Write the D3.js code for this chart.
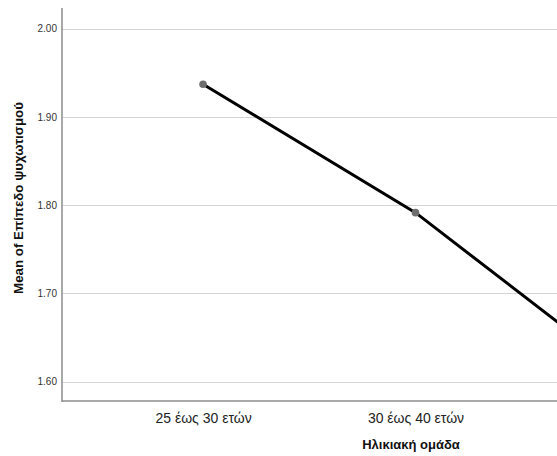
<!DOCTYPE html>
<html>
<head>
<meta charset="utf-8">
<script src="https://cdn.jsdelivr.net/npm/d3@7"></script>
<style>
html,body{margin:0;padding:0;background:#fff;overflow:hidden;}
svg{display:block;font-family:"Liberation Sans",Arial,sans-serif;}
</style>
</head>
<body>
<script>
const categories = ["25 έως 30 ετών", "30 έως 40 ετών", "40 έως 50 ετών"];
const visibleCategories = ["25 έως 30 ετών", "30 έως 40 ετών"];
const means = [1.937, 1.7915, 1.606];
const yTicks = [1.60, 1.70, 1.80, 1.90, 2.00];
const xTitle = "Ηλικιακή ομάδα";
const yTitle = "Mean of Επίπεδο ψυχωτισμού";

(function () {
const W = 557, H = 456;
const mLeft = 62, mTop = 8, mBottom = 401;

const svg = d3.select("body").append("svg").attr("width", W).attr("height", H);

const y = d3.scaleLinear().domain([1.578, 2.0235]).range([mBottom, mTop]);
const x = d3.scalePoint().domain(categories).range([mLeft, 769]).padding(0.664);

// gridlines
svg.append("g").selectAll("line").data(yTicks).join("line")
  .attr("x1", mLeft).attr("x2", W)
  .attr("y1", d => Math.round(y(d)) + 0.5).attr("y2", d => Math.round(y(d)) + 0.5)
  .attr("stroke", "#d4d4d4").attr("stroke-width", 1);

// y axis
const yAxis = svg.append("g").attr("transform", `translate(${mLeft},0)`)
  .call(d3.axisLeft(y).tickValues(yTicks).tickFormat(d3.format(".2f")).tickSize(0).tickPadding(5));
yAxis.select(".domain").remove();
yAxis.selectAll(".tick text").attr("font-size", 10).attr("fill", "#333").attr("font-family", "Liberation Sans, Arial, sans-serif");

// x axis
const xAxis = svg.append("g").attr("transform", `translate(0,${mBottom})`)
  .call(d3.axisBottom(x).tickValues(visibleCategories).tickSize(0).tickPadding(12));
xAxis.select(".domain").remove();
xAxis.selectAll(".tick text").attr("font-size", 14).attr("fill", "#222").attr("font-family", "Liberation Sans, Arial, sans-serif");

// axis lines
svg.append("line").attr("x1", mLeft).attr("x2", mLeft).attr("y1", mTop).attr("y2", mBottom + 1)
  .attr("stroke", "#8c8c8c").attr("stroke-width", 1.5);
svg.append("line").attr("x1", mLeft).attr("x2", W).attr("y1", mBottom).attr("y2", mBottom)
  .attr("stroke", "#8c8c8c").attr("stroke-width", 1.5);

// line
const data = categories.map((c, i) => ({c, v: means[i]}));
svg.append("path").datum(data)
  .attr("fill", "none").attr("stroke", "#000").attr("stroke-width", 3)
  .attr("d", d3.line().x(d => x(d.c)).y(d => y(d.v)));

svg.append("g").selectAll("circle").data(data).join("circle")
  .attr("cx", d => x(d.c)).attr("cy", d => y(d.v)).attr("r", 3.8)
  .attr("fill", "#6e6e6e");

// titles
svg.append("text").attr("x", 411).attr("y", 449).attr("text-anchor", "middle")
  .attr("font-size", 13).attr("font-weight", "bold").attr("fill", "#111").text(xTitle);
svg.append("text").attr("transform", `translate(23,198) rotate(-90)`)
  .attr("text-anchor", "middle").attr("font-size", 13.3).attr("font-weight", "bold").attr("fill", "#111").text(yTitle);
})();
</script>
</body>
</html>
